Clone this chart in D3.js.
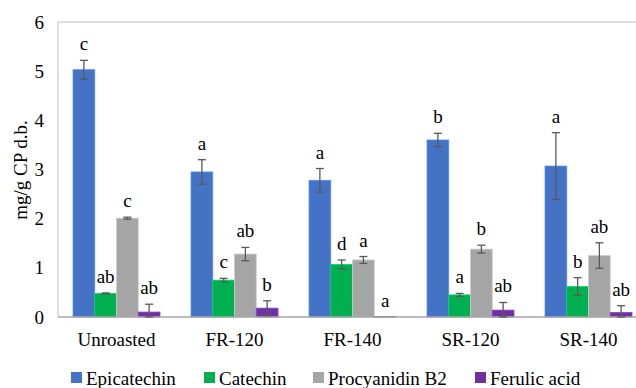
<!DOCTYPE html>
<html><head><meta charset="utf-8">
<script src="https://cdn.jsdelivr.net/npm/d3@7/dist/d3.min.js"></script>
<style>html,body{margin:0;padding:0;background:#fff}svg{display:block}</style>
</head><body><svg id="c" width="636" height="388" font-family="'Liberation Serif', 'Times New Roman', serif"></svg>
<script>
const categories = ["Unroasted", "FR-120", "FR-140", "SR-120", "SR-140"];
const seriesNames = ["Epicatechin", "Catechin", "Procyanidin B2", "Ferulic acid"];
const seriesColors = ["#4472C4", "#00B050", "#A5A5A5", "#7030A0"];
const epicatechin = [5.03, 2.95, 2.78, 3.60, 3.07];
const catechin = [0.48, 0.75, 1.07, 0.45, 0.62];
const procyanidin = [2.01, 1.28, 1.16, 1.38, 1.25];
const ferulic = [0.10, 0.18, 0.01, 0.14, 0.09];
const errEpicatechin = [0.19, 0.25, 0.24, 0.135, 0.68];
const errCatechin = [0.01, 0.035, 0.09, 0.03, 0.18];
const errProcyanidin = [0.02, 0.135, 0.07, 0.08, 0.26];
const errFerulic = [0.16, 0.15, 0.0, 0.155, 0.14];
const lblEpicatechin = ["c", "a", "a", "b", "a"];
const lblCatechin = ["ab", "c", "d", "a", "b"];
const lblProcyanidin = ["c", "ab", "a", "b", "ab"];
const lblFerulic = ["ab", "b", "a", "ab", "ab"];
const yTicks = [0, 1, 2, 3, 4, 5, 6];

const values = [epicatechin, catechin, procyanidin, ferulic];
const errs = [errEpicatechin, errCatechin, errProcyanidin, errFerulic];
const lbls = [lblEpicatechin, lblCatechin, lblProcyanidin, lblFerulic];

const FONT = "'Liberation Serif', 'Times New Roman', serif";
const svg = d3.select("#c");
const L = 57.5, T = 22, B = 317, R = 647.5;
const x = d3.scaleBand().domain(categories).range([L, R]).paddingInner(0.263).paddingOuter(0.1315);
const xs = d3.scaleBand().domain(seriesNames).range([0, x.bandwidth()]).padding(0);
const y = d3.scaleLinear().domain([0, 6]).range([B, T]);

function txt(sel) { return sel.attr("font-family", FONT).attr("font-size", 19).attr("fill", "#000"); }

// frame
svg.append("line").attr("x1", 58).attr("x2", 58).attr("y1", T).attr("y2", B).attr("stroke", "#BFBFBF").attr("stroke-width", 1);
svg.append("line").attr("x1", 58).attr("x2", 636).attr("y1", T).attr("y2", T).attr("stroke", "#BFBFBF").attr("stroke-width", 1.2);

// y tick labels
txt(svg.append("g").selectAll("text").data(yTicks).join("text"))
  .attr("x", 44).attr("y", d => y(d)).attr("dy", "0.35em")
  .attr("text-anchor", "end").text(d => d);

// y title
txt(svg.append("text")).attr("transform", `translate(27,170) rotate(-90)`)
  .attr("text-anchor", "middle").text("mg/g CP d.b.");

// bars
const g = svg.append("g");
seriesNames.forEach((s, si) => {
  const data = categories.map((c, ci) => ({c, v: values[si][ci]}));
  g.append("g").selectAll("rect").data(data).join("rect")
    .attr("x", d => x(d.c) + xs(s)).attr("width", xs.bandwidth())
    .attr("y", d => y(d.v)).attr("height", d => y(0) - y(d.v))
    .attr("fill", seriesColors[si]).attr("stroke", d3.color(seriesColors[si]).brighter(0.6)).attr("stroke-width", 0.8);
});

// axis line
svg.append("line").attr("x1", 58).attr("x2", 636).attr("y1", B).attr("y2", B).attr("stroke", "#A6A6A6").attr("stroke-width", 1.5);

// error bars and letters
seriesNames.forEach((s, si) => {
  categories.forEach((c, ci) => {
    const v = values[si][ci], e = errs[si][ci];
    const cx = x(c) + xs(s) + xs.bandwidth() / 2;
    const lo = Math.max(0, v - e), hi = v + e;
    if (e > 0) {
      const eg = svg.append("g").attr("stroke", "#595959").attr("stroke-width", 1.3);
      eg.append("line").attr("x1", cx).attr("x2", cx).attr("y1", y(lo)).attr("y2", y(hi));
      eg.append("line").attr("x1", cx - 4).attr("x2", cx + 4).attr("y1", y(hi)).attr("y2", y(hi));
      eg.append("line").attr("x1", cx - 4).attr("x2", cx + 4).attr("y1", y(lo)).attr("y2", y(lo));
    }
    txt(svg.append("text")).attr("x", cx).attr("y", y(hi) - 10)
      .attr("text-anchor", "middle").text(lbls[si][ci]);
  });
});

// x labels
txt(svg.append("g").selectAll("text").data(categories).join("text"))
  .attr("x", d => x(d) + x.bandwidth() / 2).attr("y", 346)
  .attr("text-anchor", "middle").text(d => d);

// legend
const legX = [71, 204, 313, 475];
const lg = svg.append("g");
seriesNames.forEach((s, i) => {
  lg.append("rect").attr("x", legX[i]).attr("y", 372).attr("width", 11).attr("height", 11).attr("fill", seriesColors[i]);
  txt(lg.append("text")).attr("x", legX[i] + 15).attr("y", 385).text(s);
});
</script></body></html>
